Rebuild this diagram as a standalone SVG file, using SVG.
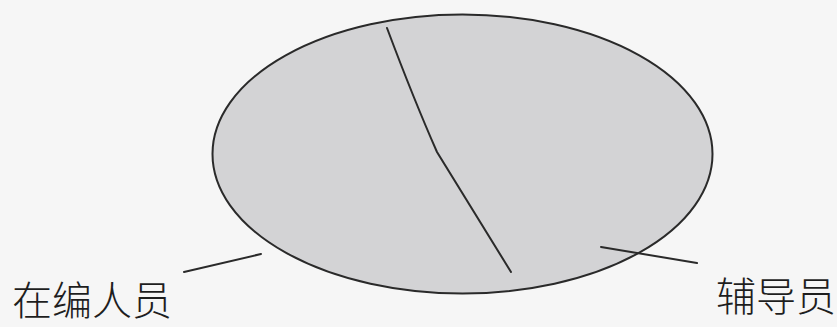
<svg xmlns="http://www.w3.org/2000/svg" width="837" height="327" viewBox="0 0 837 327">
<style>
.line{fill:none;stroke:#2a2a2a;stroke-width:2;stroke-linecap:round}
.label{font-family:"Noto Sans CJK SC","Noto Sans",sans-serif;font-size:40px;fill:#1e1e1e;font-weight:300}
</style>
<rect width="837" height="327" fill="#f6f6f6"/>
<g id="ellipse">
<ellipse cx="462.5" cy="154" rx="250" ry="139.5" fill="#d3d3d5" stroke="#2a2a2a" stroke-width="2"/>
</g>
<g id="divider">
<path class="line" d="M387,28 Q414,100 437,152 L511,272" stroke-width="1.8"/>
</g>
<g id="connectors">
<line class="line" x1="184" y1="272" x2="261" y2="254"/>
<line class="line" x1="601" y1="247" x2="697" y2="263"/>
</g>
<g id="label-zaibian">
<text class="label" x="12" y="315">在编人员</text>
</g>
<g id="label-fudaoyuan">
<text class="label" x="716" y="311">辅导员</text>
</g>
</svg>
